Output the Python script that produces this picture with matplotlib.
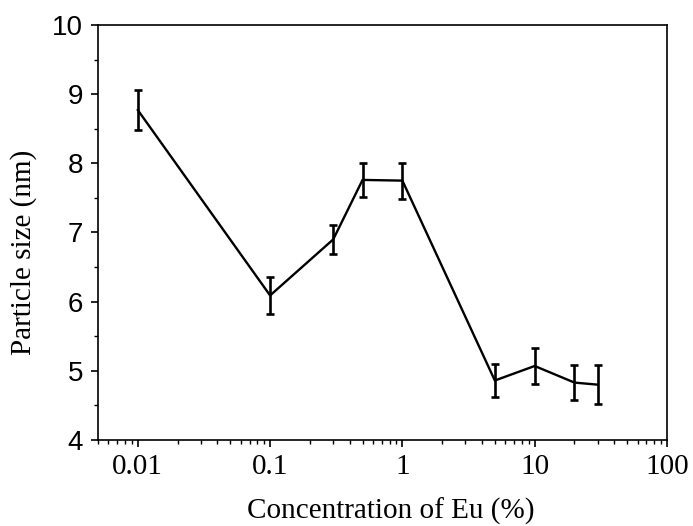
import matplotlib
matplotlib.use("Agg")
import matplotlib.pyplot as plt
from matplotlib.ticker import FixedLocator, FixedFormatter, LogLocator, NullFormatter, MultipleLocator

# Eu concentration (%) vs particle size (nm)
conc = [0.01, 0.1, 0.3, 0.5, 1, 5, 10, 20, 30]
size = [8.77, 6.09, 6.90, 7.76, 7.75, 4.86, 5.07, 4.83, 4.80]
err = [0.29, 0.27, 0.21, 0.24, 0.26, 0.245, 0.26, 0.25, 0.285]

xticks = [0.01, 0.1, 1, 10, 100]
xticklabels = ["0.01", "0.1", "1", "10", "100"]

fig = plt.figure(figsize=(6.93, 5.26), dpi=100)
ax = fig.add_axes([0.1414, 0.1635, 0.821, 0.789])

ax.errorbar(conc, size, yerr=err, color="black", lw=1.7, elinewidth=1.9,
            capsize=3, capthick=1.9)

ax.set_xscale("log")
ax.set_xlim(0.005, 100)
ax.set_ylim(4, 10)

ax.xaxis.set_major_locator(FixedLocator(xticks))
ax.xaxis.set_major_formatter(FixedFormatter(xticklabels))
ax.xaxis.set_minor_locator(LogLocator(base=10, subs=range(2, 10)))
ax.xaxis.set_minor_formatter(NullFormatter())
ax.yaxis.set_major_locator(MultipleLocator(1))
ax.yaxis.set_minor_locator(MultipleLocator(0.5))

for s in ax.spines.values():
    s.set_linewidth(1.2)
ax.tick_params(which="major", direction="out", length=4.8, width=1.2, top=False, right=False)
ax.tick_params(which="minor", direction="out", length=2.8, width=1.0, top=False, right=False)
ax.tick_params(axis="x", which="major", pad=5)
ax.tick_params(axis="y", which="major", pad=6)

for lab in ax.get_xticklabels():
    lab.set_fontfamily("Liberation Serif")
    lab.set_fontsize(21)
for lab in ax.get_yticklabels():
    lab.set_fontfamily("Liberation Sans")
    lab.set_fontsize(20)

ax.set_xlabel("Concentration of Eu (%)", family="Liberation Serif", fontsize=21)
ax.set_ylabel("Particle size (nm)", family="Liberation Serif", fontsize=21)
ax.xaxis.set_label_coords(0.514, -0.138)
ax.yaxis.set_label_coords(-0.107, 0.453)

fig.savefig("out.png", dpi=100)
